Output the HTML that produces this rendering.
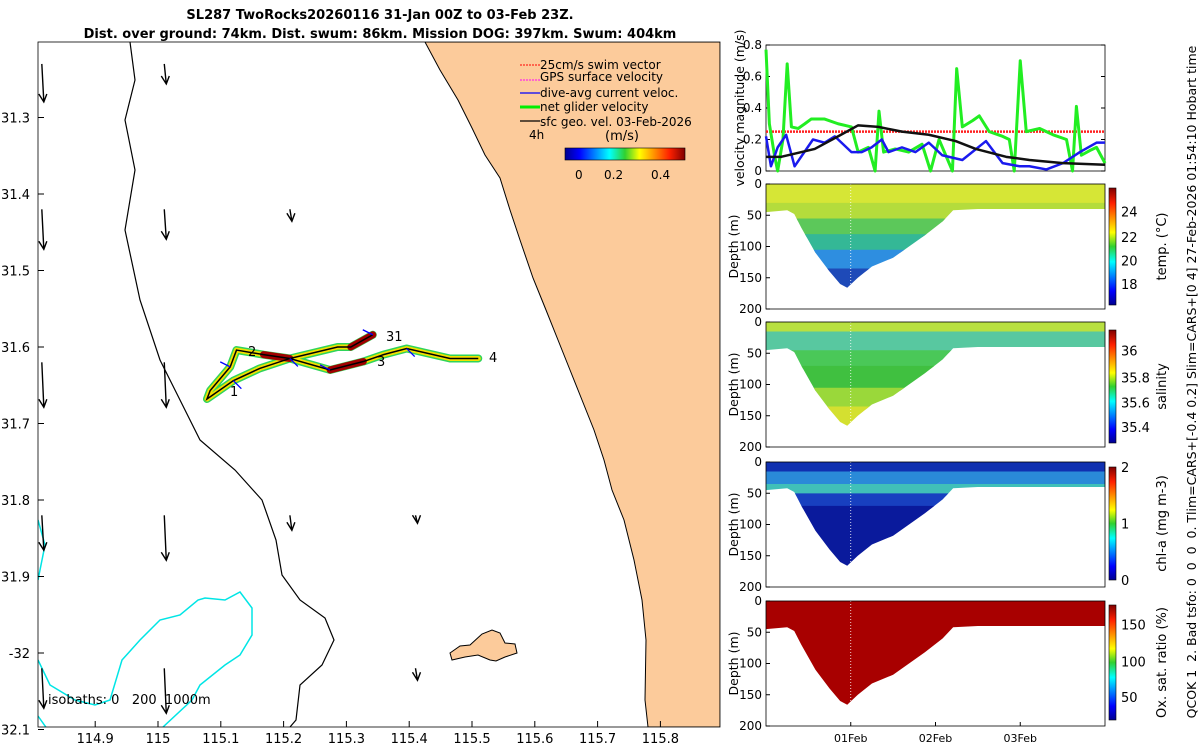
<!DOCTYPE html>
<html><head><meta charset="utf-8">
<style>
html,body{margin:0;padding:0;background:#fff;}
svg{display:block;font-family:"DejaVu Sans","Liberation Sans",sans-serif;}
</style></head>
<body>
<svg id="c" width="1200" height="750" viewBox="0 0 1200 750" xmlns="http://www.w3.org/2000/svg">
<defs>
<linearGradient id="jet" x1="0" y1="1" x2="0" y2="0">
<stop offset="0" stop-color="#00008f"/><stop offset="0.12" stop-color="#0000ff"/><stop offset="0.37" stop-color="#00ffff"/>
<stop offset="0.5" stop-color="#30d030"/><stop offset="0.62" stop-color="#ffff00"/><stop offset="0.87" stop-color="#ff2000"/><stop offset="1" stop-color="#800000"/>
</linearGradient>
<linearGradient id="jeth" x1="0" y1="0" x2="1" y2="0">
<stop offset="0" stop-color="#00008f"/><stop offset="0.12" stop-color="#0000ff"/><stop offset="0.37" stop-color="#00ffff"/>
<stop offset="0.5" stop-color="#30d030"/><stop offset="0.62" stop-color="#ffff00"/><stop offset="0.87" stop-color="#ff2000"/><stop offset="1" stop-color="#800000"/>
</linearGradient>
<clipPath id="mapclip"><rect x="38" y="42" width="682" height="685"/></clipPath>
</defs>
<g id="map" clip-path="url(#mapclip)">
<path d="M425,42 L440,70 L458,100 L472,128 L485,155 L500,178 L510,210 L520,240 L533,278 L546,310 L558,340 L570,370 L582,400 L594,430 L604,460 L612,490 L624,520 L634,560 L642,600 L646,640 L645,700 L648,727 L720,727 L720,42 Z" fill="#fccb9b" stroke="#000" stroke-width="1"/>
<path d="M450,653 L460,646 L470,645 L482,634 L492,630 L500,633 L505,643 L515,644 L517,653 L505,657 L496,661 L490,660 L478,655 L465,657 L452,660 Z" fill="#fccb9b" stroke="#000" stroke-width="1"/>
<path d="M130,42 L135,80 L125,120 L135,170 L125,230 L140,300 L160,360 L175,390 L200,440 L235,470 L262,500 L276,540 L282,575 L300,600 L325,618 L334,640 L322,665 L300,685 L296,720 L290,727" fill="none" stroke="#000" stroke-width="1.2"/>
<path d="M38,520 L45,545 L38,580" fill="none" stroke="#00e5e5" stroke-width="1.5"/>
<path d="M38,716 L55,740 M38,660 L50,685 L75,700 L95,705 L110,700 L122,660 L140,640 L160,620 L180,615 L198,600 L205,598 L225,600 L240,592 L252,608 L252,635 L240,655 L225,665 L200,685 L192,700 L163,727" fill="none" stroke="#00e5e5" stroke-width="1.5"/>
<g id="arrows"></g>
<g id="track"></g>
<text x="230" y="396" font-size="13">1</text>
<text x="248" y="356" font-size="13">2</text>
<text x="377" y="366" font-size="13">3</text>
<text x="386" y="341" font-size="13">31</text>
<text x="489" y="362" font-size="13">4</text>
<text x="48" y="704" font-size="13" style="white-space:pre" xml:space="preserve">isobaths: 0   200  1000m</text>
</g>
<rect x="38" y="42" width="682" height="685" fill="none" stroke="#000" stroke-width="0.8"/>
<g id="mapticks" font-size="13"></g>
<text x="380" y="19" font-size="13" font-weight="bold" text-anchor="middle">SL287 TwoRocks20260116 31-Jan 00Z to 03-Feb 23Z.</text>
<text x="380" y="38" font-size="13" font-weight="bold" text-anchor="middle">Dist. over ground: 74km. Dist. swum: 86km. Mission DOG: 397km. Swum: 404km</text>
<g font-size="12">
<line x1="520" y1="65" x2="540" y2="65" stroke="#ff0000" stroke-dasharray="2,1"/><text x="540" y="69">25cm/s swim vector</text>
<line x1="520" y1="80" x2="540" y2="80" stroke="#ff00ff" stroke-dasharray="2,1"/><text x="540" y="81">GPS surface velocity</text>
<line x1="520" y1="93" x2="540" y2="93" stroke="#0000ff" stroke-width="1.2"/><text x="540" y="97">dive-avg current veloc.</text>
<line x1="520" y1="107" x2="540" y2="107" stroke="#00ee00" stroke-width="3"/><text x="540" y="111">net glider velocity</text>
<line x1="520" y1="121" x2="540" y2="121" stroke="#000" stroke-width="1.2"/><text x="540" y="126">sfc geo. vel. 03-Feb-2026</text>
<text x="529" y="139">4h</text><text x="605" y="140" font-size="13">(m/s)</text>
<rect x="565" y="148" width="120" height="12" fill="url(#jeth)" stroke="#000" stroke-width="0.6"/>
<text x="575" y="179">0</text><text x="604" y="179">0.2</text><text x="651" y="179">0.4</text>
</g>
<g id="vel"></g>
<g id="sections"></g>
<text transform="translate(1196,382) rotate(-90)" font-size="12.5" text-anchor="middle" style="white-space:pre" xml:space="preserve">QCOK 1  2. Bad tsfo: 0  0  0  0. Tlim=CARS+[-0.4 0.2] Slim=CARS+[0 4] 27-Feb-2026 01:54:10 Hobart time</text>
</svg>
<script>
// ---- velocity data (hours since 31-Jan 00Z) ----
const netHours=[0,0.95,2.4,3.3,4.8,6,7.2,9.1,11,12.8,16.6,20.4,24.2,26.1,29,30.9,32,33.3,36.6,40.4,44.2,46.6,49,52.8,54,55.6,58.5,60.4,63.2,67,68.9,70.3,72,73.7,77.5,81.3,85.1,86.8,87.9,89.3,91.7,93.6,96];
const netVel=[0.77,0.3,0.1,0,0.2,0.68,0.28,0.27,0.3,0.33,0.33,0.3,0.28,0.12,0.15,0,0.38,0.12,0.14,0.12,0.17,0,0.2,0,0.65,0.28,0.32,0.35,0.25,0.22,0.2,0,0.7,0.25,0.27,0.23,0.2,0,0.41,0.1,0.13,0.15,0.05];
const curHours=[0,1.4,3.3,5.7,8.1,13.3,16.6,19.5,24.2,27.1,29.9,32.8,34.7,38.5,42.3,46.1,49.9,55.6,62.3,67,71.8,74.6,79.4,84.1,88.9,93.6,96];
const curVel=[0.22,0.03,0.15,0.23,0.03,0.2,0.18,0.22,0.12,0.12,0.15,0.2,0.12,0.15,0.12,0.18,0.1,0.07,0.19,0.05,0.03,0.03,0.01,0.05,0.12,0.18,0.18];
const geoHours=[0,4.3,8.1,13.8,20.4,26.1,31.8,38.5,46.1,53.7,59.4,68,74.6,84.1,96];
const geoVel=[0.09,0.09,0.11,0.14,0.22,0.29,0.28,0.25,0.23,0.19,0.14,0.09,0.07,0.05,0.04];
const swimVel=0.25;
const velTicks=[0,0.2,0.4,0.6,0.8];
const dayTicks=["01Feb","02Feb","03Feb"];
const dayHours=[24,48,72];
// ---- section bottom profile ----
const secHours=[0,6,8,10,14,18,21,23,26,30,36,40,45,50,53,60,96];
const secDepth=[45,42,48,70,110,140,160,166,150,132,118,102,82,60,42,40,40];
const depthTicks=[0,50,100,150,200];
// ---- glider track ----
const trackLon=[115.342,115.307,115.286,115.210,115.168,115.125,115.115,115.083,115.078,115.120,115.162,115.210,115.274,115.327,115.359,115.396,115.465,115.510];
const trackLat=[31.584,31.600,31.600,31.615,31.610,31.604,31.626,31.657,31.668,31.644,31.628,31.615,31.630,31.619,31.610,31.602,31.615,31.615];
const lonTicks=[114.9,115,115.1,115.2,115.3,115.4,115.5,115.6,115.7,115.8];
const latTicks=[31.3,31.4,31.5,31.6,31.7,31.8,31.9,32,32.1];
const arrLon=[114.815,115.01,115.21,115.41];
const arrLat=[31.23,31.42,31.62,31.82,32.02];
const arrLen=[[38,40,45,35,40],[20,30,45,45,45],[0,12,0,15,0],[0,0,0,8,12]];

const NS="http://www.w3.org/2000/svg";
function mk(tag,attrs,parent){const e=document.createElementNS(NS,tag);for(const k in attrs)e.setAttribute(k,attrs[k]);parent.appendChild(e);return e;}
const lonX=v=>158+(v-115)*628;
const latY=v=>347+(v-31.6)*765;
const tX=h=>766+h/96*339;

const mt=document.getElementById('mapticks');
lonTicks.forEach(v=>{const x=lonX(v);
 const l=mk('line',{x1:x,y1:727,x2:x,y2:721,stroke:'#000'},mt);
 const t=mk('text',{x:x,y:743,'text-anchor':'middle'},mt);t.textContent=String(v);});
latTicks.forEach(v=>{const y=latY(v);
 const l=mk('line',{x1:38,y1:y,x2:44,y2:y,stroke:'#000'},mt);
 const t=mk('text',{x:30,y:y+5,'text-anchor':'end'},mt);t.textContent=(v===32?'-32':String(v));});

const ag=document.getElementById('arrows');
arrLon.forEach((lo,i)=>arrLat.forEach((la,j)=>{const L=arrLen[i][j];if(!L)return;const x=lonX(lo),y=latY(la);
 const a=mk('path',{d:`M${x},${y} L${x+2},${y+L} M${x-3},${y+L-8} L${x+2},${y+L} L${x+5},${y+L-8}`,stroke:'#000','stroke-width':1.4,fill:'none'},ag);
 }));

const tg=document.getElementById('track');
const pts=trackLon.map((lo,i)=>lonX(lo)+','+latY(trackLat[i])).join(' ');
let e=mk('polyline',{points:pts,fill:'none',stroke:'#2fd45a','stroke-width':8,'stroke-linejoin':'round','stroke-linecap':'round'},tg);

e=mk('polyline',{points:pts,fill:'none',stroke:'#f2e000','stroke-width':5,'stroke-linejoin':'round','stroke-linecap':'round'},tg);

[[0,1],[3,4],[12,13]].forEach(s=>{const p=s.map(i=>lonX(trackLon[i])+','+latY(trackLat[i])).join(' ');
 const r=mk('polyline',{points:p,fill:'none',stroke:'#a00000','stroke-width':7,'stroke-linecap':'round'},tg);});
e=mk('polyline',{points:pts,fill:'none',stroke:'#000','stroke-width':1.5},tg);

trackLon.forEach((lo,i)=>{if(i%3)return;const x=lonX(lo),y=latY(trackLat[i]);
 const b=mk('line',{x1:x,y1:y,x2:x+(i%2?8:-10),y2:y+(i%2?8:-5),stroke:'#0000ff','stroke-width':1.3},tg);});

const vg=document.getElementById('vel');
const vY=v=>171-v/0.8*126;
mk('rect',{x:766,y:45,width:339,height:126,fill:'#fff',stroke:'#000','stroke-width':0.8},vg);
velTicks.forEach(v=>{const y=vY(v);mk('line',{x1:766,y1:y,x2:770,y2:y,stroke:'#000'},vg);mk('line',{x1:1105,y1:y,x2:1101,y2:y,stroke:'#000'},vg);
 const t=mk('text',{x:762,y:y+4,'text-anchor':'end','font-size':12},vg);t.textContent=String(v);});
let ln=mk('line',{x1:766,y1:vY(swimVel),x2:1105,y2:vY(swimVel),stroke:'#ff2020','stroke-width':2.5,'stroke-dasharray':'2,1'},vg);

function line(hs,vs,col,w,name){const p=mk('polyline',{points:hs.map((h,i)=>tX(h)+','+vY(vs[i])).join(' '),fill:'none',stroke:col,'stroke-width':w,'stroke-linejoin':'round'},vg);}
line(netHours,netVel,'#22ee22',3,'net-glider-velocity-line');
line(curHours,curVel,'#1a1aee',2.5,'dive-avg-current-line');
line(geoHours,geoVel,'#111',2.5,'geostrophic-velocity-line');
let yl=mk('text',{transform:'translate(744,108) rotate(-90)','text-anchor':'middle','font-size':12.5},vg);yl.textContent='velocity magnitude (m/s)';


const sg=document.getElementById('sections');
const panels=[
 {y0:184,name:'temperature',label:'temp. (°C)',cb:[188,305],ticks:['24','22','20','18'],tickPos:[0.2,0.42,0.62,0.82],
  bands:[[0,35,'#d6e636'],[35,60,'#b4dc3c'],[60,85,'#5cc85a'],[85,110,'#34b896'],[110,140,'#2e8ee0'],[140,210,'#1e4ab8']]},
 {y0:322,name:'salinity',label:'salinity',cb:[330,443],ticks:['36','35.8','35.6','35.4'],tickPos:[0.18,0.42,0.64,0.86],
  bands:[[0,20,'#b8e040'],[20,50,'#58c8a0'],[50,75,'#4ac858'],[75,110,'#40c040'],[110,140,'#9ad83a'],[140,210,'#d4e030']]},
 {y0:462,name:'chlorophyll',label:'chl-a (mg m-3)',cb:[467,580],ticks:['2','1','0'],tickPos:[0,0.5,1],
  bands:[[0,20,'#1030b0'],[20,40,'#2a8ad8'],[40,55,'#40c0b8'],[55,75,'#1840c0'],[75,210,'#0a1a9c']]},
 {y0:601,name:'oxygen',label:'Ox. sat. ratio (%)',cb:[605,720],ticks:['150','100','50'],tickPos:[0.17,0.49,0.8],
  bands:[[0,210,'#a80000']]}
];
panels.forEach((P,pi)=>{
 const H=125;const dY=d=>P.y0+d/200*H;
 const g=mk('g',{},sg);
 const cid='sc'+pi;const cp=mk('clipPath',{id:cid},g);
 let d='M'+tX(0)+','+dY(0)+' L'+tX(96)+','+dY(0);
 for(let i=secHours.length-1;i>=0;i--)d+=' L'+tX(secHours[i])+','+dY(secDepth[i]);
 mk('path',{d:d+'Z'},cp);
 const cg=mk('g',{'clip-path':`url(#${cid})`},g);
 P.bands.forEach(b=>{const r=mk('rect',{x:766,y:dY(b[0])-3,width:340,height:dY(b[1])-dY(b[0])+3,fill:b[2]},cg);});
 mk('line',{x1:tX(24),y1:dY(0),x2:tX(24),y2:dY(170),stroke:'#fff','stroke-width':0.8,'stroke-dasharray':'1,2'},cg);
 mk('rect',{x:766,y:P.y0,width:339,height:H,fill:'none',stroke:'#000','stroke-width':0.8},g);
 depthTicks.forEach(v=>{const y=dY(v);mk('line',{x1:766,y1:y,x2:770,y2:y,stroke:'#000'},g);
  const t=mk('text',{x:762,y:y+4,'text-anchor':'end','font-size':12},g);t.textContent=String(v);});
 const yt=mk('text',{transform:`translate(738,${P.y0+H/2}) rotate(-90)`,'text-anchor':'middle','font-size':12.5},g);yt.textContent='Depth (m)';
 
 const cb=mk('rect',{x:1109,y:P.cb[0],width:7,height:P.cb[1]-P.cb[0],fill:'url(#jet)',stroke:'#000','stroke-width':0.6},g);
 
 P.ticks.forEach((s,k)=>{const y=P.cb[0]+P.tickPos[k]*(P.cb[1]-P.cb[0]);
  const t=mk('text',{x:1121,y:y+5,'font-size':13},g);t.textContent=s;});
 const cl=mk('text',{transform:`translate(1166,${(P.cb[0]+P.cb[1])/2}) rotate(-90)`,'text-anchor':'middle','font-size':13},g);cl.textContent=P.label;
 
});
dayTicks.forEach((s,i)=>{const x=tX(dayHours[i]);mk('line',{x1:x,y1:726,x2:x,y2:722,stroke:'#000'},sg);
 const t=mk('text',{x:x,y:742,'text-anchor':'middle','font-size':11},sg);t.textContent=s;});
</script>
</body></html>
